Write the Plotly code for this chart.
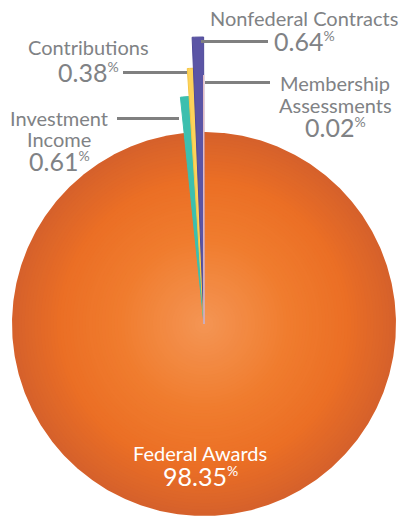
import numpy as np
import plotly.graph_objects as go

# ---- data ----
categories = ["Federal Awards", "Investment Income", "Contributions",
              "Nonfederal Contracts", "Membership Assessments"]
values = [98.35, 0.61, 0.38, 0.64, 0.02]
pct_labels = ["98.35", "0.61", "0.38", "0.64", "0.02"]
label_lines = [["Federal Awards"], ["Investment", "Income"], ["Contributions"],
               ["Nonfederal Contracts"], ["Membership", "Assessments"]]

# ---- styling ----
W, H = 402, 518
CX, CY = 204, 324
radii = [192, 228, 256, 287, 249]
colors = [None, "#3cbfae", "#fdd35a", "#5b55a5", "#fbeff0"]
edge = [None, "#3cbfae", "#f6c644", "#4f4a99", "#ecc4c8"]
GRAY = "#808285"
FONT = "Lato"

def wedge(t0, t1, r):
    n = max(3, int(abs(t1 - t0) / 0.5) + 2)
    th = np.radians(np.linspace(t0, t1, n))
    xs = np.concatenate([[CX], CX + r * np.sin(th), [CX]])
    ys = np.concatenate([[CY], CY - r * np.cos(th), [CY]])
    return xs, ys

fig = go.Figure()

total = sum(values)
cum = np.concatenate([[0], np.cumsum(values)]) / total * 360.0
starts, ends = cum[:-1], cum[1:]

# Orange slice drawn as radial gradient (concentric layers)
def lerp(c1, c2, t):
    a = [int(c1[i:i + 2], 16) for i in (1, 3, 5)]
    b = [int(c2[i:i + 2], 16) for i in (1, 3, 5)]
    return "rgb(%d,%d,%d)" % tuple(round(a[k] + (b[k] - a[k]) * t) for k in range(3))

stops = [(0.0, "#f49655"), (0.45, "#f07c2e"), (0.75, "#eb6f25"), (1.0, "#d6612b")]
def grad(f):
    for (f0, c0), (f1, c1) in zip(stops[:-1], stops[1:]):
        if f <= f1:
            return lerp(c0, c1, (f - f0) / (f1 - f0))
    return stops[-1][1]

N = 60
for i in range(N, 0, -1):
    f = i / N
    xs, ys = wedge(starts[0], ends[0], radii[0] * f)
    fig.add_trace(go.Scatter(x=xs, y=ys, fill="toself", mode="lines",
                             line=dict(width=0, color=grad(f)),
                             fillcolor=grad(f), hoverinfo="skip", showlegend=False))

# small slices
for k in range(1, len(values)):
    xs, ys = wedge(starts[k], ends[k], radii[k])
    fig.add_trace(go.Scatter(x=xs, y=ys, fill="toself", mode="lines",
                             line=dict(width=1, color=edge[k]),
                             fillcolor=colors[k], hoverinfo="skip",
                             name=categories[k], showlegend=False))

# leader lines
leaders = {
    3: (201, 268, 41.5),
    2: (123, 187, 72.5),
    4: (205, 270, 82.5),
    1: (117, 179, 118.5),
}
for k, (x0, x1, y) in leaders.items():
    fig.add_shape(type="line", x0=x0, x1=x1, y0=y, y1=y, xref="x", yref="y",
                  line=dict(color="#808080", width=3))

def pct_text(s, size):
    return "%s<sup><span style='font-size:%dpx'>%%</span></sup>" % (s, size)

# text placement (x center, list of line y centers, pct y center)
text_pos = {
    0: (200, [453], 476),
    1: (59, [118, 139], 161),
    2: (88, [47], 71.5),
    3: (304, [18], 41),
    4: (335, [83, 105], 127),
}
for k, (x, ys_, py) in text_pos.items():
    col = "white" if k == 0 else GRAY
    for line, y in zip(label_lines[k], ys_):
        fig.add_annotation(x=x, y=y, xref="x", yref="y", text=line, showarrow=False,
                           xanchor="center", yanchor="middle",
                           font=dict(family=FONT, size=20, color=col))
    fig.add_annotation(x=x, y=py, xref="x", yref="y",
                       text=pct_text(pct_labels[k], 14), showarrow=False,
                       xanchor="center", yanchor="middle",
                       font=dict(family=FONT, size=25, color=col))

fig.update_layout(
    width=W, height=H, margin=dict(l=0, r=0, t=0, b=0),
    paper_bgcolor="white", plot_bgcolor="white",
    xaxis=dict(range=[0, W], visible=False, fixedrange=True),
    yaxis=dict(range=[H, 0], visible=False, fixedrange=True),
    showlegend=False,
)

fig.write_html("out.html", config={"displayModeBar": False},
               post_script="document.body.style.margin='0';document.body.style.overflow='hidden';")
